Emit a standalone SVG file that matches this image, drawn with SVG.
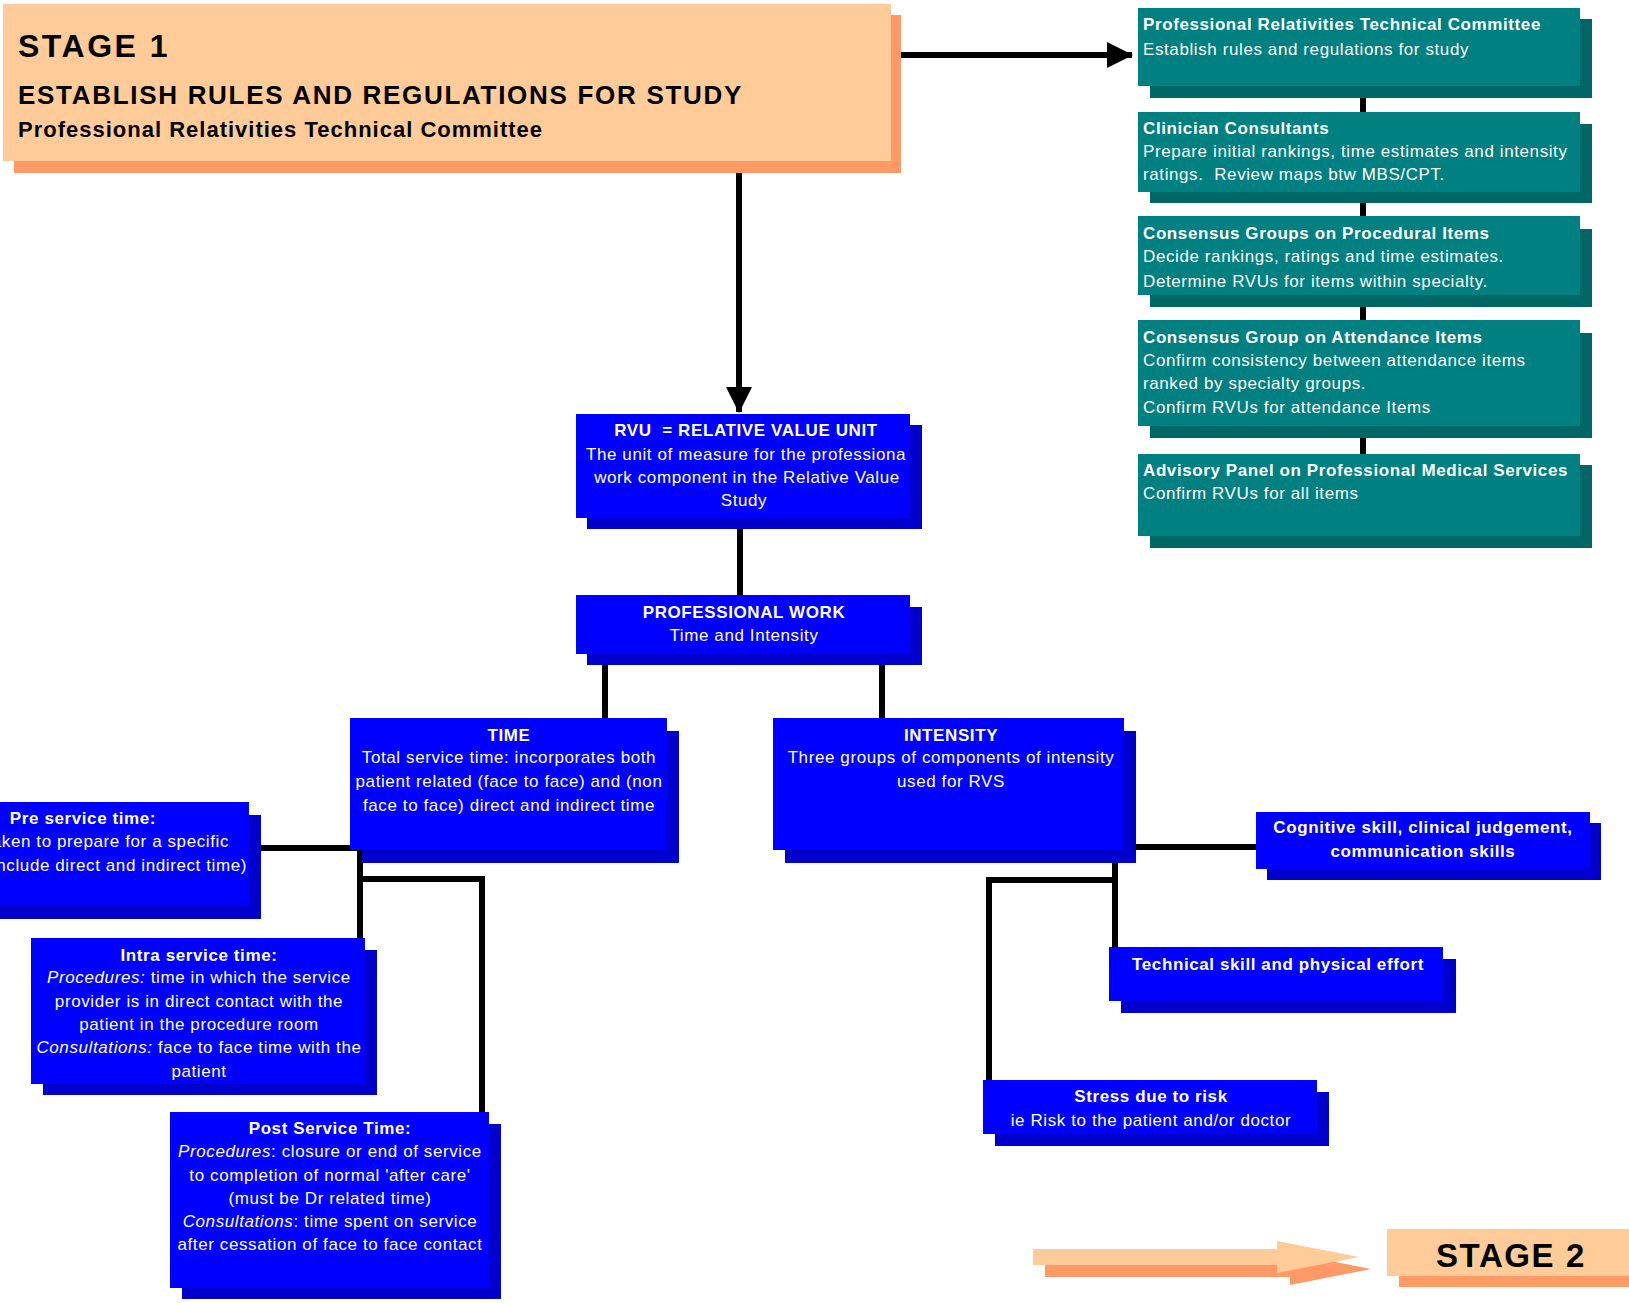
<svg xmlns="http://www.w3.org/2000/svg" width="1629" height="1303" viewBox="0 0 1629 1303">
  <style>
    text { font-family: "Liberation Sans", Arial, sans-serif; }
    .w { fill: #ffffff; font-size: 17px; letter-spacing: 0.6px; }
    .k { fill: #000000; font-weight: bold; }
    .b { font-weight: bold; }
    .i { font-style: italic; }
    .m { text-anchor: middle; }
    .blue { fill: #0000ff; }
    .blue-sh { fill: #0000cc; }
    .teal { fill: #008080; }
    .teal-sh { fill: #006666; }
    .peach { fill: #ffcc99; }
    .peach-sh { fill: #ff9966; }
    .ln { stroke: #000000; stroke-width: 6; fill: none; }
  </style>
  <defs>
    <marker id="head" viewBox="0 0 26 26" refX="25" refY="13" markerWidth="26" markerHeight="26" markerUnits="userSpaceOnUse" orient="auto">
      <path d="M0,0 L26,13 L0,26 Z" fill="#000000"/>
    </marker>
  </defs>

  <rect width="1629" height="1303" fill="#ffffff"/>

  <!-- connectors -->
  <g id="connectors">
    <line class="ln" x1="901" y1="55" x2="1132" y2="55" marker-end="url(#head)"/>
    <line class="ln" x1="739" y1="173" x2="739" y2="412" marker-end="url(#head)"/>
    <line class="ln" x1="1363" y1="86" x2="1363" y2="454"/>
    <line class="ln" x1="740" y1="518" x2="740" y2="595"/>
    <line class="ln" x1="605" y1="654" x2="605" y2="718"/>
    <line class="ln" x1="882" y1="654" x2="882" y2="718"/>
    <!-- time branches -->
    <line class="ln" x1="261" y1="848" x2="360" y2="848"/>
    <polyline class="ln" points="360,850 360,938"/>
    <polyline class="ln" points="360,879 482,879 482,1112"/>
    <!-- intensity branches -->
    <line class="ln" x1="1136" y1="847" x2="1256" y2="847"/>
    <polyline class="ln" points="1115,850 1115,947"/>
    <polyline class="ln" points="1115,880 989,880 989,1080"/>
  </g>

  <!-- stage 1 banner -->
  <g id="stage1">
    <rect class="peach-sh" x="14" y="15" width="887" height="158"/>
    <rect class="peach" x="3" y="4" width="888" height="157"/>
    <text class="k" x="18" y="57" font-size="32" letter-spacing="2.5">STAGE 1</text>
    <text class="k" x="18" y="104" font-size="26" letter-spacing="1.7">ESTABLISH RULES AND REGULATIONS FOR STUDY</text>
    <text class="k" x="18" y="137" font-size="22" letter-spacing="1">Professional Relativities Technical Committee</text>
  </g>

  <!-- committee chain -->
  <g id="prtc">
    <rect class="teal-sh" x="1150" y="19" width="442" height="79"/>
    <rect class="teal" x="1138" y="8" width="442" height="78"/>
    <text class="w b" x="1143" y="30">Professional Relativities Technical Committee</text>
    <text class="w" x="1143" y="55">Establish rules and regulations for study</text>
  </g>
  <g id="clinicians">
    <rect class="teal-sh" x="1150" y="124" width="442" height="79"/>
    <rect class="teal" x="1138" y="112" width="442" height="80"/>
    <text class="w b" x="1143" y="134">Clinician Consultants</text>
    <text class="w" x="1143" y="157">Prepare initial rankings, time estimates and intensity</text>
    <text class="w" x="1143" y="180" xml:space="preserve">ratings.  Review maps btw MBS/CPT.</text>
  </g>
  <g id="procedural">
    <rect class="teal-sh" x="1150" y="229" width="442" height="78"/>
    <rect class="teal" x="1138" y="216" width="442" height="79"/>
    <text class="w b" x="1143" y="239">Consensus Groups on Procedural Items</text>
    <text class="w" x="1143" y="262">Decide rankings, ratings and time estimates.</text>
    <text class="w" x="1143" y="287">Determine RVUs for items within specialty.</text>
  </g>
  <g id="attendance">
    <rect class="teal-sh" x="1150" y="333" width="442" height="105"/>
    <rect class="teal" x="1138" y="320" width="442" height="106"/>
    <text class="w b" x="1143" y="343">Consensus Group on Attendance Items</text>
    <text class="w" x="1143" y="366">Confirm consistency between attendance items</text>
    <text class="w" x="1143" y="389">ranked by specialty groups.</text>
    <text class="w" x="1143" y="413">Confirm RVUs for attendance Items</text>
  </g>
  <g id="advisory">
    <rect class="teal-sh" x="1150" y="465" width="442" height="83"/>
    <rect class="teal" x="1138" y="454" width="442" height="82"/>
    <text class="w b" x="1143" y="476">Advisory Panel on Professional Medical Services</text>
    <text class="w" x="1143" y="499">Confirm RVUs for all items</text>
  </g>

  <!-- RVU definition -->
  <g id="rvu">
    <rect class="blue-sh" x="587" y="425" width="335" height="104"/>
    <rect class="blue" x="576" y="414" width="334" height="104"/>
    <text class="w b m" x="746" y="436" xml:space="preserve">RVU  = RELATIVE VALUE UNIT</text>
    <text class="w m" x="746" y="460">The unit of measure for the professiona</text>
    <text class="w m" x="747" y="483">work component in the Relative Value</text>
    <text class="w m" x="744" y="506">Study</text>
  </g>

  <g id="professional-work">
    <rect class="blue-sh" x="587" y="607" width="335" height="58"/>
    <rect class="blue" x="576" y="595" width="334" height="59"/>
    <text class="w b m" x="744" y="618">PROFESSIONAL WORK</text>
    <text class="w m" x="744" y="641">Time and Intensity</text>
  </g>

  <g id="time">
    <rect class="blue-sh" x="362" y="731" width="317" height="132"/>
    <rect class="blue" x="350" y="718" width="317" height="132"/>
    <text class="w b m" x="509" y="741">TIME</text>
    <text class="w m" x="509" y="763">Total service time: incorporates both</text>
    <text class="w m" x="509" y="787">patient related (face to face) and (non</text>
    <text class="w m" x="509" y="811">face to face) direct and indirect time</text>
  </g>

  <g id="intensity">
    <rect class="blue-sh" x="785" y="731" width="351" height="132"/>
    <rect class="blue" x="773" y="718" width="351" height="132"/>
    <text class="w b m" x="951" y="741">INTENSITY</text>
    <text class="w m" x="951" y="763">Three groups of components of intensity</text>
    <text class="w m" x="951" y="787">used for RVS</text>
  </g>

  <g id="pre-service">
    <rect class="blue-sh" x="0" y="815" width="261" height="104"/>
    <rect class="blue" x="0" y="802" width="249" height="104"/>
    <text class="w b m" x="83" y="824">Pre service time:</text>
    <text class="w" x="229" y="847" text-anchor="end">aken to prepare for a specific</text>
    <text class="w" x="247" y="871" text-anchor="end">nclude direct and indirect time)</text>
  </g>

  <g id="intra-service">
    <rect class="blue-sh" x="43" y="950" width="334" height="145"/>
    <rect class="blue" x="31" y="938" width="334" height="146"/>
    <text class="w b m" x="199" y="961">Intra service time:</text>
    <text class="w m" x="199" y="983"><tspan class="i">Procedures:</tspan> time in which the service</text>
    <text class="w m" x="199" y="1007">provider is in direct contact with the</text>
    <text class="w m" x="199" y="1030">patient in the procedure room</text>
    <text class="w m" x="199" y="1053"><tspan class="i">Consultations:</tspan> face to face time with the</text>
    <text class="w m" x="199" y="1077">patient</text>
  </g>

  <g id="post-service">
    <rect class="blue-sh" x="182" y="1124" width="319" height="175"/>
    <rect class="blue" x="170" y="1112" width="319" height="176"/>
    <text class="w b m" x="330" y="1134">Post Service Time:</text>
    <text class="w m" x="330" y="1157"><tspan class="i">Procedures</tspan>: closure or end of service</text>
    <text class="w m" x="330" y="1181">to completion of normal 'after care'</text>
    <text class="w m" x="330" y="1204">(must be Dr related time)</text>
    <text class="w m" x="330" y="1227"><tspan class="i">Consultations</tspan>: time spent on service</text>
    <text class="w m" x="330" y="1250">after cessation of face to face contact</text>
  </g>

  <g id="cognitive">
    <rect class="blue-sh" x="1267" y="823" width="334" height="57"/>
    <rect class="blue" x="1256" y="812" width="334" height="57"/>
    <text class="w b m" x="1423" y="833">Cognitive skill, clinical judgement,</text>
    <text class="w b m" x="1423" y="857">communication skills</text>
  </g>

  <g id="technical">
    <rect class="blue-sh" x="1121" y="959" width="335" height="54"/>
    <rect class="blue" x="1109" y="947" width="334" height="54"/>
    <text class="w b m" x="1278" y="970">Technical skill and physical effort</text>
  </g>

  <g id="stress">
    <rect class="blue-sh" x="995" y="1092" width="334" height="54"/>
    <rect class="blue" x="983" y="1080" width="334" height="54"/>
    <text class="w b m" x="1151" y="1102">Stress due to risk</text>
    <text class="w m" x="1151" y="1126">ie Risk to the patient and/or doctor</text>
  </g>

  <!-- next stage pointer -->
  <g id="stage2-arrow">
    <path class="peach-sh" d="M1045,1261 L1290,1261 L1290,1253 L1371,1269 L1290,1285 L1290,1277 L1045,1277 Z"/>
    <path class="peach" d="M1033,1249 L1277,1249 L1277,1241 L1359,1257 L1277,1273 L1277,1265 L1033,1265 Z"/>
  </g>
  <g id="stage2">
    <rect class="peach-sh" x="1399" y="1240" width="230" height="47"/>
    <rect class="peach" x="1387" y="1229" width="242" height="47"/>
    <text class="k" x="1436" y="1267" font-size="33" letter-spacing="1.6">STAGE 2</text>
  </g>
</svg>
